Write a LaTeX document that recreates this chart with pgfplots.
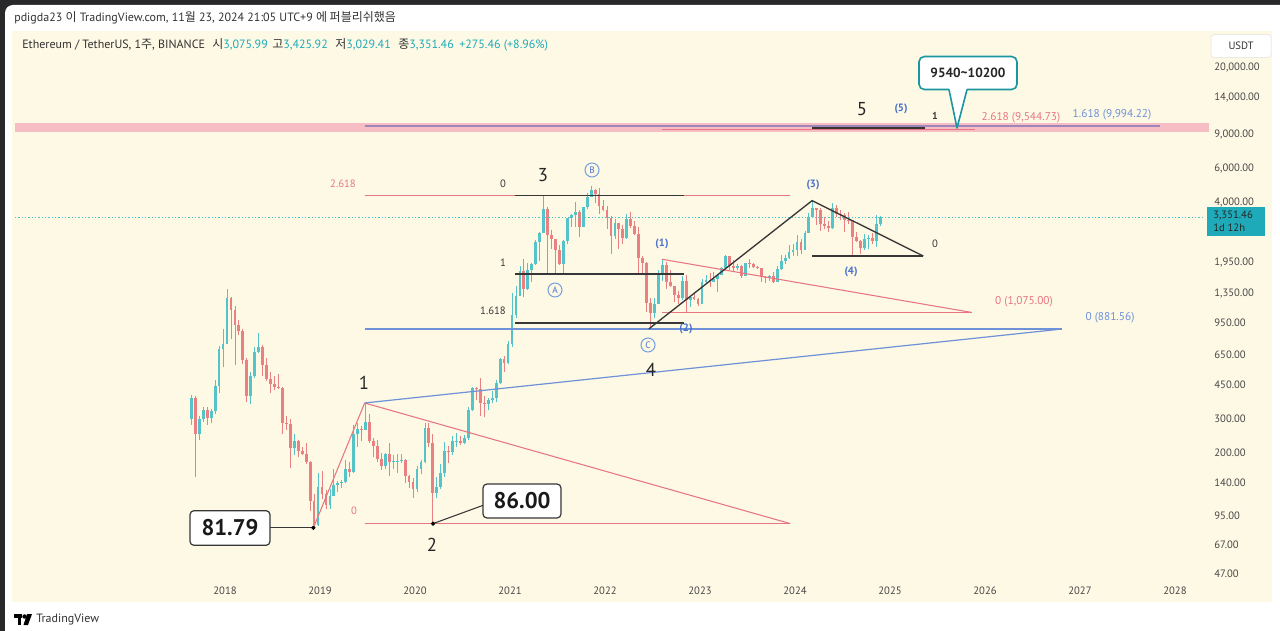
\documentclass[border=0pt]{standalone}
\usepackage{pgfplots}
\usepackage{pgfplotstable}
\pgfplotsset{compat=1.18}
\usepackage{fontspec}
\setmainfont{PT Sans}
\newfontfamily\kr{Noto Sans CJK KR}

\definecolor{frame}{RGB}{40,40,42}
\definecolor{cream}{RGB}{253,249,229}
\definecolor{cup}{RGB}{84,196,200}
\definecolor{cdn}{RGB}{233,128,130}
\definecolor{fibred}{RGB}{232,118,128}
\definecolor{fibblue}{RGB}{110,145,215}
\definecolor{lblue}{RGB}{72,112,205}
\definecolor{cblue}{RGB}{120,160,220}
\definecolor{dline}{RGB}{55,55,55}
\definecolor{tvteal}{RGB}{30,170,185}
\definecolor{pline}{RGB}{80,195,205}
\definecolor{call}{RGB}{25,150,160}
\definecolor{tick}{RGB}{70,70,70}
\definecolor{band}{RGB}{246,190,196}
\definecolor{hdr}{RGB}{50,50,50}

\newcommand\fs[1]{\fontsize{#1}{#1}\selectfont}

% semi-monthly candles, n = half-months since Jan 2017, u = 1 up / 0 down
\pgfplotstableread{
n o h l c u
15 301 400 280 388 1
16 388 395 150 250 0
17 250 310 235 302 1
18 302 345 290 335 1
19 335 345 280 305 0
20 305 340 285 330 1
21 330 480 320 445 1
22 445 720 410 690 1
23 690 880 560 740 1
24 740 1420 740 1270 1
25 1270 1300 780 1110 0
26 1110 1160 570 920 0
27 920 980 820 860 0
28 860 880 580 610 0
29 610 620 370 395 0
30 395 530 360 500 1
31 500 710 490 670 1
32 670 840 660 710 1
33 710 725 500 575 0
34 575 625 475 485 0
35 485 530 410 455 0
36 455 500 425 440 0
37 440 515 430 435 0
38 435 440 250 285 0
39 285 310 265 282 0
40 282 300 168 212 0
41 212 250 195 232 1
42 232 235 190 205 0
43 205 215 195 198 0
44 198 225 175 180 0
45 180 182 100 113 0
46 113 122 81.79 85 0
47 85 158 84 133 1
48 133 162 115 123 0
49 123 128 102 107 0
50 107 130 102 120 1
51 120 165 120 136 1
52 136 143 125 139 1
53 139 145 132 141 1
54 141 185 140 165 1
55 165 180 151 160 0
56 160 280 158 250 1
57 250 285 215 268 1
58 268 275 230 265 0
59 265 364 263 290 1
60 290 320 225 230 0
61 230 240 190 218 0
62 218 235 180 187 0
63 187 200 163 172 0
64 172 200 165 198 1
65 198 225 152 180 0
66 180 195 165 181 1
67 181 198 158 182 1
68 182 197 178 185 1
69 185 186 140 152 0
70 152 153 132 142 0
71 142 148 117 130 0
72 130 172 126 165 1
73 165 185 155 180 1
74 180 288 178 270 1
75 270 285 215 226 0
76 226 252 86 124 0
77 124 150 117 133 1
78 133 175 130 158 1
79 158 227 150 206 1
80 206 218 178 202 0
81 202 245 195 231 1
82 231 253 216 232 1
83 232 245 220 226 0
84 226 248 222 240 1
85 240 345 235 335 1
86 335 443 330 435 1
87 435 440 375 430 0
88 430 490 310 365 0
89 365 395 308 360 0
90 360 385 335 378 1
91 378 420 365 386 1
92 386 480 370 460 1
93 460 622 455 615 1
94 615 635 530 590 0
95 590 760 580 737 1
96 737 1350 715 1040 1
97 1040 1475 1000 1315 1
98 1315 1870 1310 1770 1
99 1770 2040 1290 1420 0
100 1420 1950 1410 1790 1
101 1790 1945 1550 1920 1
102 1920 2545 1900 2510 1
103 2510 2800 2000 2770 1
104 2770 4372 2770 3720 1
105 3720 3800 1730 2710 0
106 2710 2890 2300 2580 0
107 2580 2600 1700 2275 0
108 2275 2410 1900 1915 0
109 1915 2550 1720 2530 1
110 2530 3330 2450 3310 1
111 3310 3470 3000 3430 1
112 3430 4030 3000 3570 1
113 3570 3680 2650 3000 0
114 3000 3800 2970 3790 1
115 3790 4460 3690 4290 1
116 4290 4868 4270 4630 1
117 4630 4700 3970 4440 0
118 4440 4780 3500 3860 0
119 3860 4100 3600 3680 0
120 3680 3860 2930 3330 0
121 3330 3410 2160 2690 0
122 2690 3280 2600 3120 1
123 3120 3150 2300 2920 0
124 2920 3050 2450 2615 0
125 2615 3480 2600 3280 1
126 3280 3580 2960 3020 0
127 3020 3190 2700 2730 0
128 2730 2970 1700 2060 0
129 2060 2100 1720 1940 0
130 1940 1970 1080 1210 0
131 1210 1280 881.56 1070 0
132 1070 1280 1000 1190 1
133 1190 1785 1190 1680 1
134 1680 2030 1570 1900 1
135 1900 1960 1420 1555 0
136 1555 1790 1460 1475 0
137 1475 1480 1220 1330 0
138 1330 1390 1190 1270 0
139 1270 1665 1250 1570 1
140 1570 1680 1075 1250 0
141 1250 1300 1150 1295 1
142 1295 1350 1240 1265 0
143 1265 1275 1160 1196 0
144 1196 1600 1190 1550 1
145 1550 1680 1510 1585 1
146 1585 1715 1460 1555 0
147 1555 1745 1550 1605 1
148 1605 1710 1370 1680 1
149 1680 1860 1680 1820 1
150 1820 2140 1780 2100 1
151 2100 2110 1790 1870 0
152 1870 2020 1740 1820 0
153 1820 1930 1780 1875 1
154 1875 1900 1625 1665 0
155 1665 1940 1660 1935 1
156 1935 2030 1830 1930 0
157 1930 1935 1820 1860 0
158 1860 1880 1800 1820 0
159 1820 1830 1550 1645 0
160 1645 1660 1530 1625 0
161 1625 1680 1570 1670 1
162 1670 1750 1520 1555 0
163 1555 1870 1550 1815 1
164 1815 2135 1790 1980 1
165 1980 2130 1930 2050 1
166 2050 2400 2040 2210 1
167 2210 2445 2120 2280 1
168 2280 2715 2100 2510 1
169 2510 2590 2160 2280 0
170 2280 2860 2260 2790 1
171 2790 3520 2780 3380 1
172 3380 4093 3350 3740 1
173 3740 3750 3060 3640 0
174 3640 3730 2850 3100 0
175 3100 3350 2910 3015 0
176 3015 3220 2820 2940 0
177 2940 3980 2910 3760 1
178 3760 3890 3360 3480 0
179 3480 3660 3240 3430 0
180 3430 3540 2810 3250 0
181 3250 3560 3100 3230 0
182 3230 3260 2111 2660 0
183 2660 2820 2500 2525 0
184 2525 2550 2150 2320 0
185 2320 2730 2260 2600 1
186 2600 2720 2300 2630 1
187 2630 2770 2440 2520 0
188 2520 3450 2360 3100 1
189 3100 3426 3029 3351 1
}\eth
\pgfplotstablegetrowsof{\eth}
\pgfmathtruncatemacro\lastrow{\pgfplotsretval-1}

\begin{document}
\begin{tikzpicture}
\begin{scope}[x=0.75pt,y=-0.75pt]
  \useasboundingbox (0,0) rectangle (1280,631);
  \clip (0,0) rectangle (1280,631);
  \fill[frame] (0,0) rectangle (1280,631);
  \fill[white, rounded corners=6pt] (5,5) rectangle (1300,650);
  \fill[cream] (12,31) rectangle (1272,602);
  \node[anchor=base west, font=\fs{9}, text=hdr, inner sep=0] at (14,22)
    {pdigda23 {\kr 이} TradingView.com, 11{\kr 월} 23, 2024 21:05 UTC+9 {\kr 에 퍼블리쉬했음}};
  \begin{scope}[every node/.style={anchor=base west, font=\fs{9}, text=hdr, inner sep=0}]
    \node at (22,49) {Ethereum / TetherUS, 1{\kr 주}, BINANCE};
    \node at (212,49) {{\kr 시}\textcolor{tvteal}{3,075.99}};
    \node at (272,49) {{\kr 고}\textcolor{tvteal}{3,425.92}};
    \node at (335,49) {{\kr 저}\textcolor{tvteal}{3,029.41}};
    \node at (398,49) {{\kr 종}\textcolor{tvteal}{3,351.46}};
    \node at (459,49) {\textcolor{tvteal}{+275.46 (+8.96\%)}};
  \end{scope}
\end{scope}

\begin{axis}[
  at={(11.25pt,-433.5pt)}, anchor=south west,
  scale only axis, width=891pt, height=409.5pt,
  ymode=log, xmin=2015.789, xmax=2028.295, ymin=44.87, ymax=30760,
  axis line style={draw=none}, major tick length=0pt, minor tick length=0pt,
  /pgf/number format/assume math mode=true,
  xtick={2018,2019,2020,2021,2022,2023,2024,2025,2026,2027,2028},
  xticklabels={2018,2019,2020,2021,2022,2023,2024,2025,2026,2027,2028},
  xticklabel style={font=\fs{8}, text=tick, yshift=-3pt},
  ytick={47,67,95,140,200,300,450,650,950,1350,1950,4000,6000,9000,14000,20000},
  yticklabels={47.00,67.00,95.00,140.00,200.00,300.00,450.00,650.00,950.00,{1,350.00},{1,950.00},{4,000.00},{6,000.00},{9,000.00},{14,000.00},{20,000.00}},
  yticklabel pos=right,
  yticklabel style={font=\fs{8}, text=tick, anchor=west, xshift=5pt},
]
% pink target band
\fill[band] (axis cs:2015.789,9300) rectangle (axis cs:2028.3,10360);
\draw[fibblue!80!purple, opacity=0.75, line width=1.3pt] (axis cs:2019.47,9994) -- (axis cs:2027.84,9994);
\draw[fibred, line width=0.8pt] (axis cs:2022.60,9545) -- (axis cs:2025.89,9545);
\draw[dline, line width=0.9pt] (axis cs:2024.18,9760) -- (axis cs:2025.37,9760);

% candles: wick from low to high, body from open to close
\pgfplotsforeachungrouped \i in {0,...,\lastrow}{%
  \pgfplotstablegetelem{\i}{n}\of\eth \let\vn\pgfplotsretval
  \pgfplotstablegetelem{\i}{o}\of\eth \let\vo\pgfplotsretval
  \pgfplotstablegetelem{\i}{h}\of\eth \let\vh\pgfplotsretval
  \pgfplotstablegetelem{\i}{l}\of\eth \let\vl\pgfplotsretval
  \pgfplotstablegetelem{\i}{c}\of\eth \let\vc\pgfplotsretval
  \pgfplotstablegetelem{\i}{u}\of\eth \let\vu\pgfplotsretval
  \pgfmathsetmacro\vx{2017+(\vn+0.5)/24}%
  \ifnum\vu=1 \def\col{cup}\else\def\col{cdn}\fi
  \edef\cmd{%
    \noexpand\addplot[\col, line width=0.6pt, forget plot] coordinates {(\vx,\vl) (\vx,\vh)};
    \noexpand\addplot[\col, line width=2.1pt, forget plot] coordinates {(\vx,\vo) (\vx,\vc)};}%
  \cmd
}

% current price
\draw[pline, line width=0.8pt, dash pattern=on 1pt off 1.5pt] (axis cs:2015.789,3351.46) -- (axis cs:2028.3,3351.46);

% red fib from wave 1
\draw[fibred, line width=0.8pt] (axis cs:2019.47,4372) -- (axis cs:2023.95,4372);
\draw[fibred, line width=0.8pt] (axis cs:2019.47,86) -- (axis cs:2023.95,86);
\draw[fibred, line width=0.8pt] (axis cs:2019.47,364) -- (axis cs:2023.95,86);
\draw[fibred, line width=0.8pt] (axis cs:2018.93,81.79) -- (axis cs:2019.47,364);
% blue fib
\draw[fibblue, line width=0.9pt] (axis cs:2019.47,364) -- (axis cs:2026.81,881.56);
\draw[fibblue, line width=1.2pt] (axis cs:2019.47,881.56) -- (axis cs:2026.81,881.56);
% black fib levels
\draw[dline, line width=0.9pt] (axis cs:2021.05,4372) -- (axis cs:2022.83,4372);
\draw[dline, line width=0.9pt] (axis cs:2021.05,1701) -- (axis cs:2022.83,1701);
\draw[dline, line width=0.9pt] (axis cs:2021.05,947) -- (axis cs:2022.83,947);
% red triangle from (1)
\draw[fibred, line width=0.8pt] (axis cs:2022.60,2030) -- (axis cs:2025.86,1075);
\draw[fibred, line width=0.8pt] (axis cs:2022.60,1075) -- (axis cs:2025.86,1075);
% black triangle
\draw[dline, line width=1pt] (axis cs:2022.46,881.56) -- (axis cs:2024.18,4093) -- (axis cs:2025.35,2111);
\draw[dline, line width=1pt] (axis cs:2024.18,2111) -- (axis cs:2025.35,2111);
% connectors and pivot dots
\draw[dline, line width=0.8pt] (axis cs:2018.474,81.79) -- (axis cs:2018.93,81.79);
\draw[dline, line width=0.8pt] (axis cs:2020.19,86) -- (axis cs:2020.716,107);
\addplot[only marks, mark=*, mark size=1.4pt, black, forget plot] coordinates {(2018.93,81.79) (2020.19,86)};
\end{axis}

\begin{scope}[x=0.75pt,y=-0.75pt]
  % price scale extras
  \fill[band] (1203,123) rectangle (1209,132);
  \node[draw=black!12, fill=white, rounded corners=2pt, minimum width=45pt, minimum height=17pt, inner sep=0, font=\fs{8}, text=hdr] at (1241,46) {USDT};
  \fill[tvteal] (1207,207) rectangle (1265,236);
  \node[anchor=west, font=\fs{8}, text=black!85, inner sep=0] at (1213,215) {3,351.46};
  \node[anchor=west, font=\fs{8}, text=black!85, inner sep=0] at (1213,228) {1d 12h};

  % fib labels
  \node[fibred, font=\fs{8}] at (343,184) {2.618};
  \node[text=dline, font=\fs{8}] at (503,184) {0};
  \node[text=dline, font=\fs{8}] at (503,263) {1};
  \node[text=dline, font=\fs{8}] at (493,311) {1.618};
  \node[fibred, font=\fs{8}] at (354,511) {0};
  \node[text=dline, font=\fs{8}] at (935,244) {0};
  \node[fibred, font=\fs{8.5}] at (1024,302) {0 (1,075.00)};
  \node[text=fibblue, font=\fs{8.5}] at (1110,318) {0 (881.56)};
  \node[fibred, font=\fs{8.5}] at (1021,118) {2.618 (9,544.73)};
  \node[text=fibblue, font=\fs{8.5}] at (1112,115) {1.618 (9,994.22)};
  \node[text=dline, font=\fs{7.5}\bfseries] at (935,116) {1};

  % wave labels
  \begin{scope}[every node/.style={font=\fs{14}, text=black!85}]
    \node at (364,383) {1};
    \node at (432,545) {2};
    \node at (543,175) {3};
    \node at (651,370) {4};
    \node at (862,109) {5};
  \end{scope}
  \begin{scope}[every node/.style={font=\fs{8}\bfseries, text=lblue}]
    \node at (662,244) {(1)};
    \node at (686,329) {(2)};
    \node at (813,185) {(3)};
    \node at (851,272) {(4)};
    \node at (901,109) {(5)};
  \end{scope}
  \begin{scope}[every node/.style={circle, draw=cblue, line width=0.8pt, inner sep=0, minimum size=10.5pt, font=\fs{7}, text=lblue}]
    \node at (555,290) {A};
    \node at (592,170) {B};
    \node at (648,345) {C};
  \end{scope}

  % value boxes
  \node[draw=dline, line width=0.9pt, fill=white, rounded corners=3pt, minimum width=60pt, minimum height=26pt, inner sep=0, font=\fs{17}\bfseries, text=black!90] at (230,528) {81.79};
  \node[draw=dline, line width=0.9pt, fill=white, rounded corners=3pt, minimum width=58.5pt, minimum height=25.5pt, inner sep=0, font=\fs{17}\bfseries, text=black!90] at (522,501) {86.00};

  % callout
  \node[draw=call, line width=1.2pt, fill=white, rounded corners=4pt, minimum width=73.5pt, minimum height=24.75pt, inner sep=0, font=\fs{10}\bfseries, text=black!85] at (968,73) {9540\textasciitilde10200};
  \fill[white] (949,88) -- (957,128) -- (967,88) -- cycle;
  \draw[call, line width=1.2pt, line join=round] (949,89.6) -- (957,128) -- (967,89.6);

  % footer logo
  \fill[black] (14,614) rectangle (22,617.5);
  \fill[black] (17.5,614) rectangle (21,625);
  \fill[black] (24.5,616.5) circle (2.2);
  \fill[black] (27,614) -- (32,614) -- (28,625) -- (23.5,625) -- cycle;
  \node[anchor=west, font=\fs{9}, text=hdr, inner sep=0] at (36,619.5) {TradingView};
\end{scope}
\end{tikzpicture}
\end{document}
